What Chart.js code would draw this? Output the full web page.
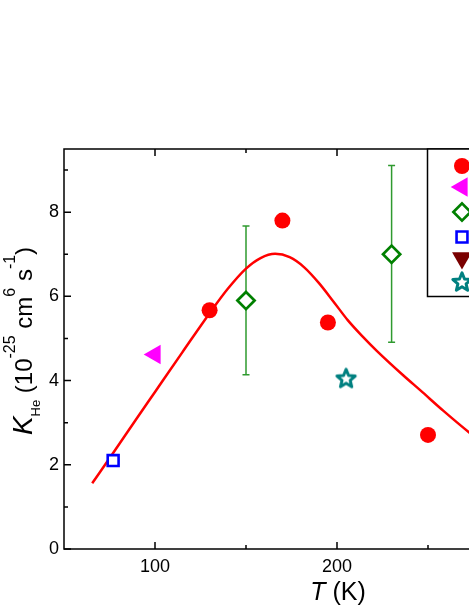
<!DOCTYPE html>
<html>
<head>
<meta charset="utf-8">
<script src="https://cdn.jsdelivr.net/npm/chart.js@4/dist/chart.umd.min.js"></script>
<style>
  html, body { margin: 0; padding: 0; background: #fff; overflow: hidden; }
  canvas { display: block; }
</style>
</head>
<body>
<canvas id="c" width="640" height="607"></canvas>
<script>
(function () {
  "use strict";
  var FONT = '"Liberation Sans", Arial, sans-serif';

  // measured data
  var circT = [130, 170, 195, 250];
  var circK = [5.67, 7.80, 5.38, 2.71];
  var triT = [100];
  var triK = [4.62];
  var diaT = [150, 230];
  var diaK = [5.90, 7.00];
  var diaLo = [4.14, 4.91];
  var diaHi = [7.67, 9.11];
  var sqT = [77];
  var sqK = [2.10];
  var downT = [];
  var downK = [];
  var starT = [205];
  var starK = [4.05];
  // fitted curve
  var fitT = [65.5, 77, 89, 100, 115, 130, 140, 150, 158, 166, 174, 182, 190, 198, 206, 214, 222, 236.5, 246, 258.5, 272.3, 290, 310, 330, 350];
  var fitK = [1.56, 2.28, 3.04, 3.73, 4.67, 5.60, 6.18, 6.66, 6.91, 7.01, 6.93, 6.69, 6.32, 5.88, 5.43, 5.05, 4.70, 4.12, 3.76, 3.28, 2.78, 2.20, 1.70, 1.35, 1.10];

  var xTicks = [100, 200, 300];
  var xMinor = [150, 250];
  var yTicks = [0, 2, 4, 6, 8];
  var yMinor = [1, 3, 5, 7, 9];

  function pts(xs, ys) { return xs.map(function (x, i) { return { x: x, y: ys[i] }; }); }

  // open star marker
  var star = document.createElement("canvas");
  star.width = 26; star.height = 26;
  (function () {
    var g = star.getContext("2d"), R = 9.6, r = 4.3;
    g.beginPath();
    for (var i = 0; i < 10; i++) {
      var a = -Math.PI / 2 + i * Math.PI / 5, rr = i % 2 ? r : R;
      g.lineTo(13 + rr * Math.cos(a), 13.5 + rr * Math.sin(a));
    }
    g.closePath();
    g.fillStyle = "#fff"; g.fill();
    g.lineJoin = "round"; g.lineWidth = 3; g.strokeStyle = "#008080"; g.stroke();
  })();

  var legendY = [166, 187, 212, 237, 258, 282];

  var decor = {
    id: "decor",
    beforeDatasetsDraw: function (chart) {
      var ctx = chart.ctx, xs = chart.scales.x, ys = chart.scales.y;
      ctx.save();
      ctx.strokeStyle = "#2f9a2f"; ctx.lineWidth = 1.5;
      for (var i = 0; i < diaT.length; i++) {
        var x = xs.getPixelForValue(diaT[i]), y1 = ys.getPixelForValue(diaLo[i]), y2 = ys.getPixelForValue(diaHi[i]);
        ctx.beginPath();
        ctx.moveTo(x, y1); ctx.lineTo(x, y2);
        ctx.moveTo(x - 3.5, y1); ctx.lineTo(x + 3.5, y1);
        ctx.moveTo(x - 3.5, y2); ctx.lineTo(x + 3.5, y2);
        ctx.stroke();
      }
      ctx.restore();
    },
    afterDatasetsDraw: function (chart) {
      var ctx = chart.ctx, a = chart.chartArea, xs = chart.scales.x, ys = chart.scales.y;
      ctx.save();
      ctx.strokeStyle = "#000"; ctx.lineWidth = 1.5;
      ctx.strokeRect(a.left, a.top, a.right - a.left, a.bottom - a.top);
      ctx.beginPath();
      function xt(v, len) {
        var p = xs.getPixelForValue(v);
        ctx.moveTo(p, a.bottom); ctx.lineTo(p, a.bottom - len);
        ctx.moveTo(p, a.top); ctx.lineTo(p, a.top + len);
      }
      function yt(v, len) {
        var p = ys.getPixelForValue(v);
        ctx.moveTo(a.left, p); ctx.lineTo(a.left + len, p);
        ctx.moveTo(a.right, p); ctx.lineTo(a.right - len, p);
      }
      xTicks.forEach(function (v) { xt(v, 7); });
      xMinor.forEach(function (v) { xt(v, 4); });
      yTicks.forEach(function (v) { yt(v, 7); });
      yMinor.forEach(function (v) { yt(v, 4); });
      ctx.stroke();

      // legend box
      var lx = 427.5, ly = a.top, lb = 296.5, lr = a.right - 8;
      ctx.fillStyle = "#fff";
      ctx.fillRect(lx, ly, lr - lx, lb - ly);
      ctx.strokeRect(lx, ly, lr - lx, lb - ly);
      for (var i = 0; i < 6; i++) {
        var ds = chart.data.datasets[i];
        ctx.fillStyle = ds.backgroundColor;
        ctx.strokeStyle = ds.borderColor;
        ctx.lineWidth = ds.borderWidth;
        Chart.helpers.drawPoint(ctx, { pointStyle: ds.pointStyle, rotation: ds.rotation || 0, radius: ds.pointRadius, borderWidth: ds.borderWidth }, 462, legendY[i]);
      }

      // axis titles
      ctx.fillStyle = "#000";
      ctx.textBaseline = "alphabetic";
      ctx.textAlign = "left";
      var f1 = "italic 25px " + FONT, f2 = "25px " + FONT;
      ctx.font = f1; var wT = ctx.measureText("T").width;
      ctx.font = f2; var wK = ctx.measureText(" (K)").width;
      var sx = 338 - (wT + wK) / 2;
      ctx.font = f1; ctx.fillText("T", sx, 600);
      ctx.font = f2; ctx.fillText(" (K)", sx + wT, 600);

      var parts = [
        ["K", "italic 28px " + FONT, 0],
        ["He", "13px " + FONT, 8],
        [" (10", "24px " + FONT, 0],
        ["-25", "16px " + FONT, -17],
        [" cm", "24px " + FONT, 0],
        ["6", "16px " + FONT, -17],
        [" s", "24px " + FONT, 0],
        ["-1", "16px " + FONT, -17],
        [")", "24px " + FONT, 0]
      ];
      var tot = 0;
      parts.forEach(function (p) { ctx.font = p[1]; p.push(ctx.measureText(p[0]).width); tot += p[3]; });
      ctx.translate(32, 341);
      ctx.rotate(-Math.PI / 2);
      var cx = -tot / 2;
      parts.forEach(function (p) { ctx.font = p[1]; ctx.fillText(p[0], cx, p[2]); cx += p[3]; });
      ctx.restore();
    }
  };

  var tickFont = { family: FONT, size: 18 };

  new Chart(document.getElementById("c"), {
    type: "scatter",
    data: {
      datasets: [
        { label: "circles", data: pts(circT, circK), pointStyle: "circle", pointRadius: 8, backgroundColor: "#ff0000", borderColor: "#ff0000", borderWidth: 0 },
        { label: "left triangles", data: pts(triT, triK), pointStyle: "triangle", rotation: -90, pointRadius: 11.3, backgroundColor: "#ff00ff", borderColor: "#ff00ff", borderWidth: 0 },
        { label: "diamonds", data: pts(diaT, diaK), pointStyle: "rectRot", pointRadius: 8.6, backgroundColor: "#ffffff", borderColor: "#008000", borderWidth: 2.7 },
        { label: "squares", data: pts(sqT, sqK), pointStyle: "rect", pointRadius: 7.7, backgroundColor: "#ffffff", borderColor: "#0000ff", borderWidth: 2.6 },
        { label: "down triangles", data: pts(downT, downK), pointStyle: "triangle", rotation: 180, pointRadius: 11.5, backgroundColor: "#7a0000", borderColor: "#7a0000", borderWidth: 0 },
        { label: "stars", data: pts(starT, starK), pointStyle: star, pointRadius: 11, backgroundColor: "#ffffff", borderColor: "#008080", borderWidth: 0 },
        { label: "fit", data: pts(fitT, fitK), showLine: true, pointRadius: 0, borderColor: "#ff0000", backgroundColor: "#ff0000", borderWidth: 2.5, cubicInterpolationMode: "monotone" }
      ]
    },
    options: {
      responsive: false,
      animation: false,
      events: [],
      layout: { padding: { top: 149, right: 30, bottom: 0, left: 0 } },
      plugins: { legend: { display: false }, tooltip: { enabled: false } },
      scales: {
        x: {
          type: "linear", min: 50, max: 350,
          afterBuildTicks: function (s) { s.ticks = xTicks.map(function (v) { return { value: v }; }); },
          afterFit: function (s) { s.height = 58; },
          grid: { display: false, drawTicks: false }, border: { display: false },
          ticks: { color: "#000", font: tickFont, padding: 7, maxRotation: 0, autoSkip: false }
        },
        y: {
          type: "linear", min: 0, max: 9.5,
          afterBuildTicks: function (s) { s.ticks = yTicks.map(function (v) { return { value: v }; }); },
          afterFit: function (s) { s.width = 64; },
          grid: { display: false, drawTicks: false }, border: { display: false },
          ticks: { color: "#000", font: tickFont, padding: 5, autoSkip: false }
        }
      }
    },
    plugins: [decor]
  });
})();
</script>
</body>
</html>
